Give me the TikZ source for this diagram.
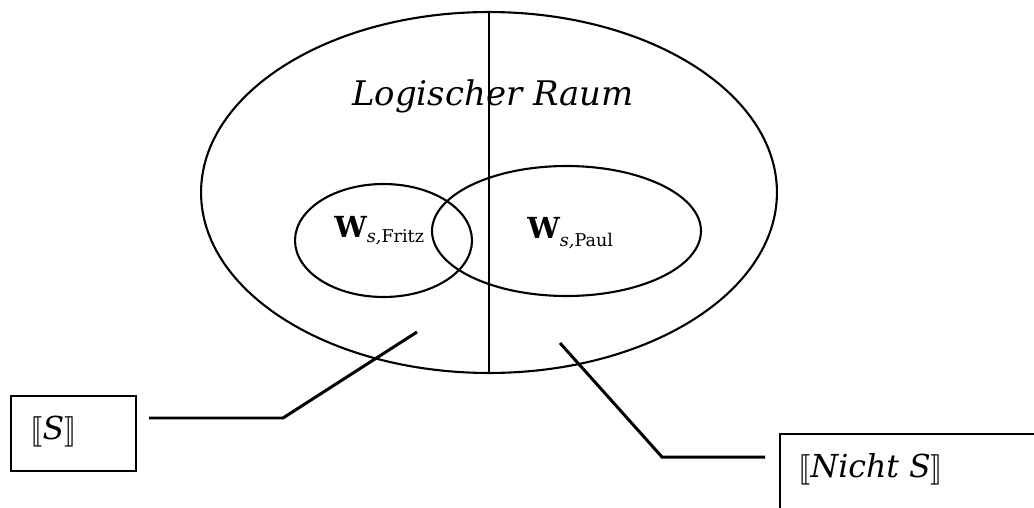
\documentclass[tikz,border=0pt]{standalone}
\usepackage{fontspec}
\setmainfont{DejaVu Serif}
\usepackage{stmaryrd}
\usetikzlibrary{shapes.geometric,positioning}

\begin{document}
\begin{tikzpicture}[
  x=0.02cm, y=-0.02cm,
  set/.style={ellipse, draw, line width=1.2pt, inner sep=0pt},
  box/.style={rectangle, draw, line width=1.3pt, inner sep=0pt, anchor=north west},
  lab/.style={anchor=base west, inner sep=0pt, font=\fontsize{18}{20}\selectfont},
  wlab/.style={anchor=base west, inner sep=0pt, font=\fontsize{16.5}{18}\selectfont\bfseries},
  lead/.style={line width=1.7pt},
]
\useasboundingbox (0,0) rectangle (1034,507);
\clip (0,0) rectangle (1034,507);

\node[set, minimum width=11.52cm, minimum height=7.22cm] (raum) at (489,192.5) {};
\node[set, minimum width=3.54cm, minimum height=2.26cm] (fritz) at (383.5,240.5) {};
\node[set, minimum width=5.38cm, minimum height=2.6cm] (paul) at (566.5,231) {};
\draw[line width=1.2pt] (raum.north) -- (raum.south);

\node[anchor=base west, inner sep=0pt, font=\fontsize{19.3}{22}\selectfont\itshape] (titel) at (352,105) {Logischer Raum};
\node[wlab] (wfritz) at (334,237) {W\raisebox{-0.1cm}{\fontsize{10}{12}\selectfont\mdseries\itshape s,\upshape Fritz}};
\node[wlab] (wpaul) at (527,238) {W\raisebox{-0.16cm}{\fontsize{10}{12}\selectfont\mdseries\itshape s,\upshape Paul}};

\node[box, minimum width=2.5cm, minimum height=1.5cm] (sbox) at (10,395) {};
\node[lab] (slabel) at (30,439) {$\llbracket$\textit{S}$\rrbracket$};
\node[box, minimum width=6cm, minimum height=2.5cm] (nbox) at (779,433) {};
\node[lab] (nlabel) at (798,477) {$\llbracket$\textit{Nicht S}$\rrbracket$};

\coordinate (sstart) at (149,418);
\coordinate (sbend) at (283,418);
\coordinate (stip) at (417,332);
\coordinate (ntip) at (560,343);
\coordinate (nbend) at (662,457);
\coordinate (nend) at (765,457);

\draw[lead] (sstart) -- (sbend) -- (stip);
\draw[lead] (ntip) -- (nbend) -- (nend);
\end{tikzpicture}
\end{document}
